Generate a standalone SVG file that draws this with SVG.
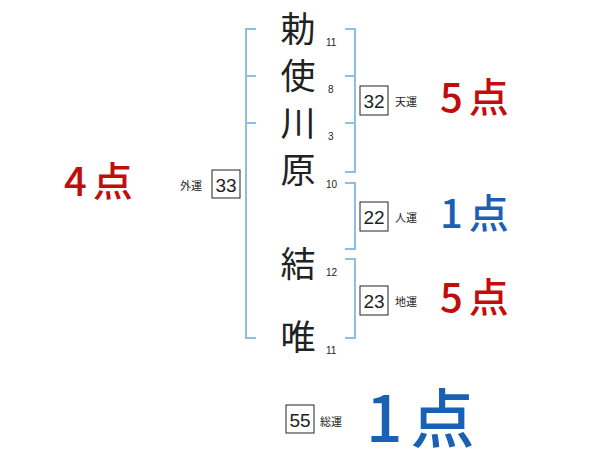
<svg xmlns="http://www.w3.org/2000/svg" width="600" height="470" viewBox="0 0 600 470">
<style>
.br{fill:none;stroke:#8cbfe3;stroke-width:2}
.ch{font-family:"Noto Sans CJK JP",sans-serif;font-size:35px;fill:#222;text-anchor:middle}
.st{font-family:"Liberation Sans",sans-serif;font-size:10px;fill:#222}
.bx{fill:#fff;stroke:#222;stroke-width:1}
.bn{font-family:"Liberation Sans",sans-serif;font-size:19px;fill:#222;text-anchor:middle}
.lb{font-family:"Noto Sans CJK JP",sans-serif;font-size:11px;fill:#222}
.red{font-family:"Noto Sans CJK JP",sans-serif;font-size:40px;font-weight:500;letter-spacing:6px;fill:#c20d0d}
.blue{font-family:"Noto Sans CJK JP",sans-serif;font-size:40px;font-weight:500;letter-spacing:6px;fill:#1a60b4}
</style>
<rect width="600" height="470" fill="#fff"/>
<g id="connectors">
<path class="br" d="M256,29 H246 V338 H256 M246,76 H256 M246,123 H256"/>
<path class="br" d="M345,29 H355 V172 H345 M345,76 H355 M345,123 H355"/>
<path class="br" d="M345,183 H355 V249 H345"/>
<path class="br" d="M345,259 H355 V338 H345"/>
</g>
<g id="name">
<text class="ch" x="298" y="42">勅</text>
<text class="ch" x="298" y="89">使</text>
<text class="ch" x="298" y="136">川</text>
<text class="ch" x="298" y="183">原</text>
<text class="ch" x="298" y="277">結</text>
<text class="ch" x="298" y="350">唯</text>
<text class="st" x="326" y="46">11</text>
<text class="st" x="328" y="93">8</text>
<text class="st" x="328" y="140">3</text>
<text class="st" x="326" y="188">10</text>
<text class="st" x="326" y="276">12</text>
<text class="st" x="326" y="354">11</text>
</g>
<g id="tenkaku">
<rect class="bx" x="360" y="86" width="28" height="29"/>
<text class="bn" x="374" y="108">32</text>
<text class="lb" x="395" y="106">天運</text>
<text class="red" x="440" y="112">5点</text>
</g>
<g id="jinkaku">
<rect class="bx" x="360" y="202" width="28" height="29"/>
<text class="bn" x="374" y="224">22</text>
<text class="lb" x="395" y="222">人運</text>
<text class="blue" x="440" y="228">1点</text>
</g>
<g id="chikaku">
<rect class="bx" x="360" y="286" width="28" height="29"/>
<text class="bn" x="374" y="308">23</text>
<text class="lb" x="395" y="306">地運</text>
<text class="red" x="440" y="312">5点</text>
</g>
<g id="gaikaku">
<rect class="bx" x="212" y="170" width="28" height="28"/>
<text class="bn" x="226" y="192">33</text>
<text class="lb" x="180" y="190">外運</text>
<text class="red" x="64" y="196">4点</text>
</g>
<g id="soukaku">
<rect class="bx" x="286" y="405" width="28" height="28"/>
<text class="bn" x="300" y="427">55</text>
<text class="lb" x="320" y="426">総運</text>
<text class="blue" style="font-size:64px;letter-spacing:8px" x="366" y="442">1点</text>
</g>
</svg>
